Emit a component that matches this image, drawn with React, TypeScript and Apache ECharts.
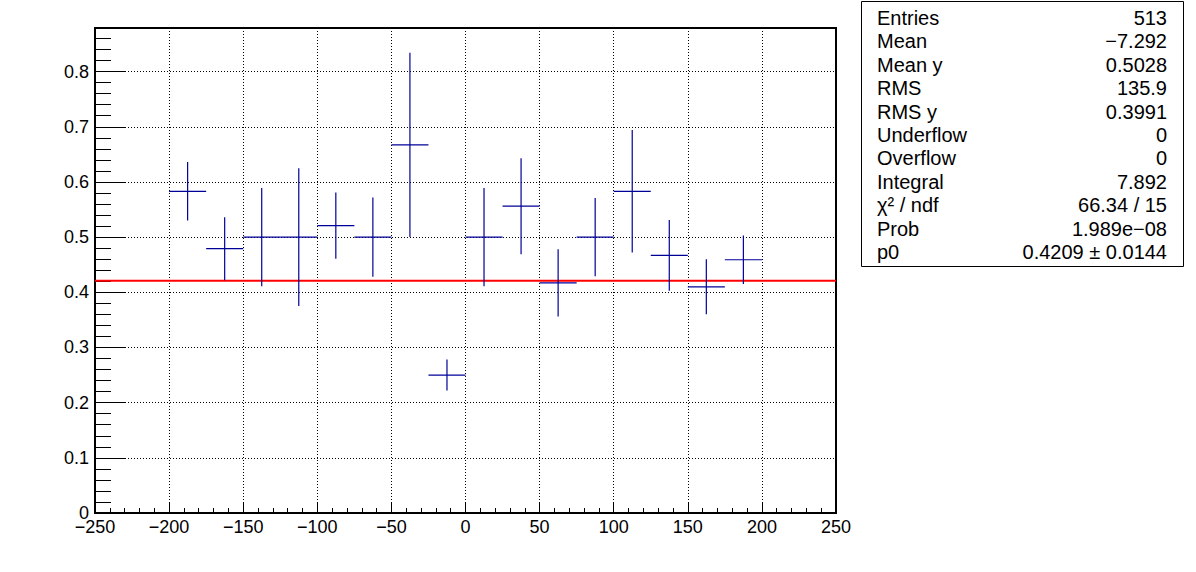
import React, { useEffect, useRef } from "react";
import * as echarts from "echarts";

const binCenters = [-187.5, -162.5, -137.5, -112.5, -87.5, -62.5, -37.5, -12.5, 12.5, 37.5, 62.5, 87.5, 112.5, 137.5, 162.5, 187.5];
const binValues = [0.583, 0.479, 0.5, 0.5, 0.521, 0.5, 0.667, 0.25, 0.5, 0.556, 0.417, 0.5, 0.583, 0.467, 0.41, 0.459];
const binErrors = [0.053, 0.057, 0.089, 0.125, 0.06, 0.072, 0.167, 0.028, 0.089, 0.087, 0.061, 0.071, 0.111, 0.064, 0.05, 0.044];
const binWidth = 25;
const fitValue = 0.4209;
const xRange = [-250, 250];
const yMax = 0.879;

const statLabels = ["Entries", "Mean", "Mean y", "RMS", "RMS y", "Underflow", "Overflow", "Integral", "χ² / ndf", "Prob", "p0"];
const statValues = ["513", "−7.292", "0.5028", "135.9", "0.3991", "0", "0", "7.892", "66.34 / 15", "1.989e−08", "0.4209 ± 0.0144"];

const FONT = "'Liberation Sans', Arial, Helvetica, sans-serif";

export default function App() {
  const ref = useRef<HTMLDivElement>(null);
  useEffect(() => {
    if (!ref.current) return;
    const chart = echarts.init(ref.current, undefined, { renderer: "svg" });
    const errData = binCenters.map((c, i) => [c, binValues[i], binErrors[i]]);
    const fmt = (v: number) => {
      const s = Math.abs(v) < 1e-9 ? "0" : String(+v.toFixed(2));
      return s.replace("-", "−");
    };
    const boxX = 861, boxY = 1, boxW = 322, boxH = 265;
    const rowH = 23.4;
    const graphics: any[] = [
      { type: "rect", shape: { x: boxX + 0.5, y: boxY + 0.5, width: boxW, height: boxH }, style: { fill: "#fff", stroke: "#000", lineWidth: 1 }, z: 10 },
    ];
    statLabels.forEach((l, i) => {
      const y = 18 + i * rowH;
      graphics.push({ type: "text", x: 877, y, style: { text: l, fill: "#000", font: `20px ${FONT}`, textAlign: "left", textVerticalAlign: "middle" }, z: 11 });
      graphics.push({ type: "text", x: 1167, y, style: { text: statValues[i], fill: "#000", font: `20px ${FONT}`, textAlign: "right", textVerticalAlign: "middle" }, z: 11 });
    });

    chart.setOption({
      animation: false,
      backgroundColor: "#fff",
      grid: { left: 95, right: 360, top: 28, bottom: 59, show: true, borderColor: "#000", borderWidth: 2, backgroundColor: "transparent" },
      xAxis: {
        type: "value", min: xRange[0], max: xRange[1], interval: 50,
        axisLine: { show: true, onZero: false, lineStyle: { color: "#000", width: 2 } },
        axisTick: { show: true, inside: true, length: 10, lineStyle: { color: "#000", width: 1 } },
        minorTick: { show: true, splitNumber: 5, length: 5, lineStyle: { color: "#000", width: 1 } },
        splitLine: { show: true, lineStyle: { color: "#000", width: 1, type: [1, 2] } },
        axisLabel: { color: "#000", fontSize: 18, fontFamily: FONT, margin: 5, formatter: fmt },
      },
      yAxis: [
        {
          type: "value", min: 0, max: yMax, interval: 0.1, position: "left",
          axisLine: { show: true, onZero: false, lineStyle: { color: "#000", width: 2 } },
          axisTick: { show: true, inside: true, length: 31, lineStyle: { color: "#000", width: 1 } },
          splitLine: { show: true, lineStyle: { color: "#000", width: 1, type: [1, 2] } },
          axisLabel: { color: "#000", fontSize: 18, fontFamily: FONT, margin: 6, formatter: fmt, showMaxLabel: false },
        },
        {
          type: "value", min: 0, max: yMax, interval: 0.02, position: "left", offset: 0,
          axisLine: { show: false, onZero: false },
          axisTick: { show: true, inside: true, length: 16, lineStyle: { color: "#000", width: 1 } },
          splitLine: { show: false },
          axisLabel: { show: false },
        },
      ],
      series: [
        {
          type: "line",
          data: [[xRange[0], fitValue], [xRange[1], fitValue]],
          symbol: "none",
          lineStyle: { color: "#ff0000", width: 2 },
          z: 3,
        },
        {
          type: "custom",
          data: errData,
          z: 4,
          renderItem: (params: any, api: any) => {
            const x = api.value(0), y = api.value(1), e = api.value(2);
            const l = api.coord([x - binWidth / 2, y]);
            const r = api.coord([x + binWidth / 2, y]);
            const t = api.coord([x, y + e]);
            const b = api.coord([x, y - e]);
            const style = { stroke: "#000099", lineWidth: 1.2 };
            return {
              type: "group",
              children: [
                { type: "line", shape: { x1: l[0], y1: l[1], x2: r[0], y2: r[1] }, style },
                { type: "line", shape: { x1: t[0], y1: t[1], x2: b[0], y2: b[1] }, style },
              ],
            };
          },
        },
      ],
      graphic: graphics,
    });
    return () => chart.dispose();
  }, []);
  return <div ref={ref} style={{ width: 1196, height: 572, position: "absolute", left: 0, top: 0 }} />;
}
